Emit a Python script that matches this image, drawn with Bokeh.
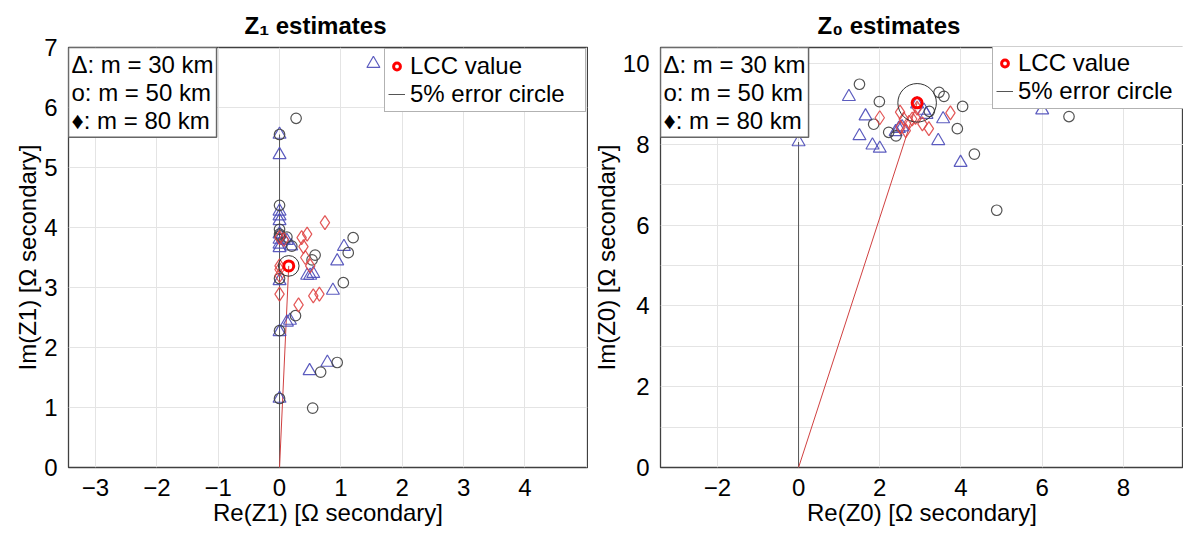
from bokeh.plotting import figure
from bokeh.models import Range1d, FixedTicker, Label, Legend, LegendItem
from bokeh.layouts import row
from bokeh.embed import file_html
from bokeh.resources import INLINE

FONT = "Liberation Sans"
FS = "24px"

# ---------------- data: Z1 estimates ----------------
z1_tri_x = [0.0, 0.0, 0.0, 0.0, 0.0, 0.0, 0.0, 0.0, 0.0, 0.07, 0.12, 0.19, 1.05, 0.94,
            0.45, 0.50, 0.55, 0.0, 0.87, 0.17, 0.12, 0.0, 0.49, 0.78, 0.0, 1.53]
z1_tri_y = [5.55, 5.21, 4.27, 4.19, 4.11, 3.89, 3.80, 3.72, 3.66, 3.80, 3.78, 3.69, 3.68, 3.44,
            3.20, 3.20, 3.23, 3.11, 2.95, 2.45, 2.42, 2.26, 1.61, 1.75, 1.15, 6.73]
z1_circ_x = [0.0, 0.27, 0.0, 0.0, 0.0, 0.01, 0.12, 0.58, 0.53, 1.20, 1.12, 1.04, 0.0, 0.26,
             0.0, 0.67, 0.94, 0.0, 0.54, 0.20]
z1_circ_y = [5.55, 5.82, 4.37, 3.97, 3.89, 3.86, 3.84, 3.54, 3.46, 3.83, 3.58, 3.08, 3.15, 2.53,
             2.28, 1.59, 1.75, 1.15, 0.99, 3.69]
z1_dia_x = [0.74, 0.36, 0.45, 0.39, 0.42, 0.50, 0.0, 0.0, 0.0, 0.55, 0.65, 0.31, 0.0, 0.07, 0.0]
z1_dia_y = [4.08, 3.83, 3.89, 3.68, 3.50, 3.36, 3.36, 3.20, 2.89, 2.86, 2.89, 2.71, 3.83, 3.80, 3.30]
z1_lcc = [0.15, 3.36]
z1_zero_top = 5.55

# ---------------- data: Z0 estimates ----------------
z0_tri_x = [1.24, 1.65, 1.50, 1.82, 2.0, 3.44, 3.56, 3.99, 6.0, 0.0, 2.39, 2.47, 2.55, 2.92, 3.09, 3.15]
z0_tri_y = [9.18, 8.70, 8.21, 7.98, 7.90, 8.09, 8.63, 7.55, 8.85, 8.06, 8.31, 8.39, 8.43, 9.00, 8.84, 8.74]
z0_circ_x = [1.50, 1.99, 1.85, 2.22, 2.40, 3.46, 3.58, 4.04, 3.22, 3.91, 4.33, 6.66, 4.88]
z0_circ_y = [9.49, 9.06, 8.50, 8.30, 8.21, 9.29, 9.19, 8.94, 8.82, 8.39, 7.76, 8.69, 6.37]
z0_dia_x = [2.0, 3.74, 3.21, 3.05, 2.50, 2.59, 2.72, 2.80, 2.88, 2.51, 2.64, 2.92]
z0_dia_y = [8.66, 8.78, 8.39, 8.51, 8.80, 8.63, 8.55, 8.63, 8.67, 8.43, 8.34, 8.90]
z0_lcc = [2.92, 9.03]
z0_zero_top = 8.06

error_pct = 0.05
info_text = "Δ: m = 30 km\no: m = 50 km\n♦: m = 80 km"

TRI_COL = "#4a4ab8"
CIRC_COL = "#404040"
DIA_COL = "#e04545"


def minus(v):
    return ("\u2212" + str(abs(v))) if v < 0 else str(v)


def make_fig(title, width, xr, yr, xticks, yticks, xgrid, ygrid, bl, br, bt, bb,
             xlabel, ylabel, title_offset, legend_loc,
             tri_x, tri_y, circ_x, circ_y, dia_x, dia_y, lcc, zero_top):
    p = figure(width=width, height=533, x_range=Range1d(*xr), y_range=Range1d(*yr),
               output_backend="svg", toolbar_location=None,
               min_border_left=bl, min_border_right=br, min_border_top=bt, min_border_bottom=bb)
    p.title.text = title
    p.title.text_font = FONT
    p.title.text_font_size = FS
    p.title.text_font_style = "bold"
    p.title.text_color = "black"
    p.title.align = "left"
    p.title.offset = title_offset
    p.title.standoff = 18
    p.outline_line_color = "#404040"
    p.outline_line_width = 1.3
    p.background_fill_color = "white"
    p.border_fill_color = "white"

    for ax in (p.xaxis[0], p.yaxis[0]):
        ax.axis_line_color = None
        ax.major_tick_line_color = None
        ax.minor_tick_line_color = None
        ax.major_label_text_font = FONT
        ax.major_label_text_font_size = FS
        ax.major_label_text_color = "black"
        ax.axis_label_text_font = FONT
        ax.axis_label_text_font_size = FS
        ax.axis_label_text_font_style = "normal"
        ax.axis_label_text_color = "black"
        ax.major_label_standoff = 5
        ax.axis_label_standoff = 0
    p.xaxis.ticker = FixedTicker(ticks=xticks)
    p.yaxis.ticker = FixedTicker(ticks=yticks)
    p.xaxis.major_label_overrides = {t: minus(t) for t in xticks}
    p.yaxis.major_label_overrides = {t: minus(t) for t in yticks}
    p.xaxis.axis_label = xlabel
    p.yaxis.axis_label = ylabel
    p.xgrid.ticker = FixedTicker(ticks=xgrid)
    p.ygrid.ticker = FixedTicker(ticks=ygrid)
    p.xgrid.grid_line_color = "#e4e4e4"
    p.ygrid.grid_line_color = "#e4e4e4"

    # reference lines
    p.segment(x0=[0], y0=[0], x1=[0], y1=[zero_top], line_color="#555555", line_width=1)
    p.line([0, lcc[0]], [0, lcc[1]], line_color="#d04040", line_width=1)

    p.scatter(tri_x, tri_y, marker="triangle", size=13, fill_color=None,
              line_color=TRI_COL, line_width=1.2, line_alpha=0.9)
    p.scatter(circ_x, circ_y, marker="circle", size=10.5, fill_color=None,
              line_color=CIRC_COL, line_width=1.2, line_alpha=0.9)
    p.scatter(dia_x, dia_y, marker="diamond", size=14, fill_color=None,
              line_color=DIA_COL, line_width=1.2, line_alpha=0.9)

    radius = error_pct * (lcc[0] ** 2 + lcc[1] ** 2) ** 0.5
    p.circle(x=[lcc[0]], y=[lcc[1]], radius=radius, fill_color=None,
             line_color="#333333", line_width=1)
    lcc_r = p.scatter([lcc[0]], [lcc[1]], marker="circle", size=10, fill_color=None,
                      line_color="#ff0000", line_width=3)
    err_r = p.line(x=[lcc[0], lcc[0]], y=[lcc[1], lcc[1]], line_color="#555555", line_width=1)

    legend = Legend(items=[LegendItem(label="LCC value", renderers=[lcc_r]),
                           LegendItem(label="5% error circle", renderers=[err_r])],
                    location=legend_loc, margin=1, padding=3, spacing=0,
                    label_text_font=FONT, label_text_font_size=FS, label_text_color="black",
                    label_standoff=5, glyph_width=17, glyph_height=18, label_height=18,
                    label_width=172,
                    border_line_color="#666666", border_line_width=1.5,
                    background_fill_color="white", background_fill_alpha=1)
    p.add_layout(legend)

    info = Label(x=xr[0], y=yr[1], x_units="data", y_units="data", text=info_text,
                 text_align="left", text_baseline="top", text_color="black",
                 text_font=FONT, text_font_size=FS, text_line_height=1.05,
                 border_line_color="#666666", border_line_width=1.5,
                 background_fill_color="white", padding=3)
    p.add_layout(info)
    return p


p1 = make_fig("Z\u2081 estimates", 588, (-3.44, 5.02), (0, 7),
              [-3, -2, -1, 0, 1, 2, 3, 4], [0, 1, 2, 3, 4, 5, 6, 7],
              [-3, -2, -1, 0, 1, 2, 3, 4, 5], [0, 1, 2, 3, 4, 5, 6, 7],
              68, 1, 46, 65,
              "Re(Z1) [\u03a9 secondary]", "Im(Z1) [\u03a9 secondary]", 176, "top_right",
              z1_tri_x, z1_tri_y, z1_circ_x, z1_circ_y, z1_dia_x, z1_dia_y, z1_lcc, z1_zero_top)

p2 = make_fig("Z\u2080 estimates", 595, (-3.4, 9.48), (0, 10.4),
              [-2, 0, 2, 4, 6, 8], [0, 2, 4, 6, 8, 10],
              [-2, 0, 2, 4, 6, 8], [0, 1, 2, 3, 4, 5, 6, 7, 8, 9, 10],
              72, 0, 44, 66,
              "Re(Z0) [\u03a9 secondary]", "Im(Z0) [\u03a9 secondary]", 157, (332, 358),
              z0_tri_x, z0_tri_y, z0_circ_x, z0_circ_y, z0_dia_x, z0_dia_y, z0_lcc, z0_zero_top)

layout = row(p1, p2)
open("out.html", "w").write(file_html(layout, INLINE))
